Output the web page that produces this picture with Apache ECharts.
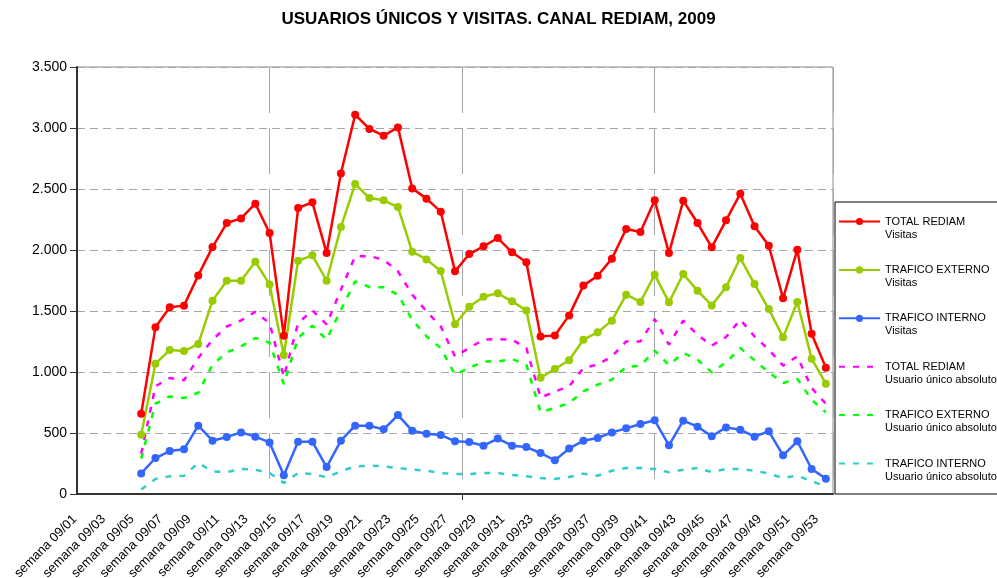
<!DOCTYPE html>
<html>

	<head>
		<meta charset="UTF-8">
		<title>Usuarios únicos y visitas. Canal REDIAM, 2009</title>
		<style type="text/css">
			html, body {
				margin: 0;
				padding: 0;
				background: #fff;
			}

			#basebox {
				width: 997px;
				height: 578px;
			}
		</style>
		<script src="https://cdn.jsdelivr.net/npm/echarts@6/dist/echarts.min.js"></script>
	</head>

	<body>
		<div id="basebox"></div>

		<script>
			// semanas 09/01 .. 09/53, los datos empiezan en la semana 09/05
			var totalWeeks = 53;
			var firstWeek = 5;

			var nombres = [
				'TOTAL REDIAM\nVisitas',
				'TRAFICO EXTERNO\nVisitas',
				'TRAFICO INTERNO\nVisitas',
				'TOTAL REDIAM\nUsuario único absoluto',
				'TRAFICO EXTERNO\nUsuario único absoluto',
				'TRAFICO INTERNO\nUsuario único absoluto'
			];

			var totalVisitas = [658, 1366, 1530, 1544, 1792, 2024, 2221, 2259, 2380, 2139, 1298, 2344, 2391, 1975, 2628, 3109, 2992, 2937, 3005, 2505,
				2421, 2314, 1825, 1967, 2030, 2098, 1981, 1899, 1292, 1300, 1464, 1708, 1789, 1929, 2172, 2147, 2407, 1975, 2404, 2221,
				2022, 2243, 2462, 2194, 2035, 1604, 2003, 1314, 1035];
			var externoVisitas = [486, 1068, 1180, 1172, 1229, 1585, 1748, 1748, 1904, 1718, 1139, 1912, 1956, 1748, 2188, 2541, 2426, 2407, 2352, 1986,
				1923, 1828, 1391, 1535, 1617, 1645, 1579, 1505, 953, 1025, 1096, 1265, 1325, 1421, 1634, 1574, 1798, 1571, 1803, 1667,
				1546, 1694, 1934, 1721, 1516, 1284, 1574, 1109, 904];
			var internoVisitas = [169, 295, 352, 366, 560, 437, 467, 505, 470, 423, 153, 429, 429, 221, 437, 560, 560, 530, 647, 519,
				494, 484, 432, 426, 396, 454, 396, 385, 336, 276, 372, 437, 459, 505, 538, 574, 604, 399, 601, 552,
				473, 546, 527, 470, 514, 317, 432, 205, 126];
			var totalUsuarios = [330, 883, 951, 932, 1114, 1264, 1373, 1422, 1493, 1400, 960, 1400, 1505, 1390, 1675, 1948, 1950, 1920, 1825, 1634,
				1497, 1374, 1128, 1197, 1265, 1270, 1265, 1197, 790, 840, 882, 1033, 1060, 1128, 1251, 1251, 1434, 1224, 1421, 1306,
				1216, 1287, 1429, 1292, 1183, 1052, 1128, 869, 740];
			var externoUsuarios = [290, 740, 800, 787, 830, 1060, 1160, 1210, 1279, 1240, 900, 1280, 1380, 1265, 1510, 1743, 1697, 1694, 1634, 1429,
				1292, 1197, 978, 1033, 1087, 1087, 1106, 1060, 670, 705, 746, 841, 896, 937, 1041, 1052, 1175, 1057, 1156, 1101,
				997, 1079, 1197, 1095, 997, 910, 943, 773, 669];
			var internoUsuarios = [36, 123, 145, 150, 254, 186, 180, 205, 199, 172, 90, 172, 164, 137, 186, 227, 232, 227, 213, 200,
				191, 172, 164, 164, 172, 172, 156, 145, 131, 123, 139, 167, 150, 191, 213, 213, 205, 178, 199, 213,
				180, 205, 205, 191, 167, 131, 150, 104, 63];

			var semanas = [];
			for (var w = 1; w <= totalWeeks; w++) {
				semanas.push('semana 09/' + (w < 10 ? '0' + w : w));
			}

			// rellena con null las semanas sin datos
			function conHuecos(arr) {
				var out = [];
				for (var k = 1; k < firstWeek; k++) out.push(null);
				return out.concat(arr);
			}

			function miles(v) {
				if (v < 1000) return String(v);
				var r = String(v % 1000);
				while (r.length < 3) r = '0' + r;
				return Math.floor(v / 1000) + '.' + r;
			}

			function serieVisitas(nombre, datos, color) {
				return {
					name: nombre,
					type: 'line',
					data: conHuecos(datos),
					symbol: 'circle',
					symbolSize: 8,
					z: 3,
					itemStyle: { color: color },
					lineStyle: { color: color, width: 2.5 }
				};
			}

			function serieUsuarios(nombre, datos, color) {
				return {
					name: nombre,
					type: 'line',
					data: conHuecos(datos),
					symbol: 'none',
					z: 2,
					itemStyle: { color: color },
					lineStyle: { color: color, width: 2.5, type: [6, 8] }
				};
			}

			// leyenda: las series de usuarios sin marcador
			var legendData = nombres.map(function (n, i) {
				return i < 3 ? { name: n } : { name: n, itemStyle: { opacity: 0 } };
			});

			var basechart = echarts.init(document.getElementById('basebox'));

			var option = {
				animation: false,
				backgroundColor: '#fff',
				textStyle: { fontFamily: 'Arial, "Liberation Sans", sans-serif' },
				title: {
					text: 'USUARIOS ÚNICOS Y VISITAS. CANAL REDIAM, 2009',
					left: 'center',
					top: 6,
					textStyle: { fontSize: 17, fontWeight: 'bold', color: '#000', fontFamily: 'Arial, "Liberation Sans", sans-serif' }
				},
				legend: {
					data: legendData,
					orient: 'vertical',
					left: 835,
					top: 202,
					padding: [0, 3, 11, 3],
					itemWidth: 41,
					itemHeight: 9,
					itemGap: 9.4,
					backgroundColor: '#fff',
					borderColor: '#000',
					borderWidth: 1,
					formatter: function (name) { return '\n' + name; },
					textStyle: { fontSize: 11, lineHeight: 13, color: '#000' }
				},
				grid: {
					left: 77,
					top: 67,
					right: 164,
					bottom: 84,
					outerBoundsMode: 'none',   // las etiquetas pueden salirse por abajo
					containLabel: false,
					show: true,
					borderColor: '#8c8c8c',
					borderWidth: 1
				},
				xAxis: [{
					type: 'category',
					data: semanas,
					boundaryGap: true,
					axisLine: { lineStyle: { color: '#333', width: 2 } },
					axisTick: { show: false },
					axisLabel: {
						interval: 1,
						rotate: 45,
						margin: 14,
						fontSize: 13,
						color: '#000',
						padding: [0, 13, 0, 0]
					},
					splitLine: { show: false }
				}, {
					// líneas verticales del fondo
					type: 'value',
					position: 'bottom',
					min: 0,
					max: totalWeeks,
					interval: 13.5,
					axisLine: { show: false },
					axisLabel: { show: false },
					axisTick: { show: false },
					splitLine: { show: true, lineStyle: { color: '#a6a6a6', width: 1, type: [46, 15] } }
				}, {
					// única marca del eje
					type: 'value',
					position: 'bottom',
					min: 0,
					max: totalWeeks,
					axisLine: { show: false },
					axisLabel: { show: false },
					axisTick: { show: true, customValues: [27], length: 6, lineStyle: { color: '#333' } },
					splitLine: { show: false }
				}],
				yAxis: {
					type: 'value',
					min: 0,
					max: 3500,
					interval: 500,
					axisLine: { show: true, lineStyle: { color: '#333', width: 2 } },
					axisTick: { show: true, length: 7, lineStyle: { color: '#333' } },
					axisLabel: { fontSize: 14, color: '#000', margin: 10, formatter: miles },
					splitLine: { lineStyle: { color: '#a6a6a6', width: 1, type: [8, 5] } }
				},
				series: [
					serieVisitas(nombres[0], totalVisitas, '#ff0000'),
					serieVisitas(nombres[1], externoVisitas, '#99cc00'),
					serieVisitas(nombres[2], internoVisitas, '#3366ff'),
					serieUsuarios(nombres[3], totalUsuarios, '#ff00ff'),
					serieUsuarios(nombres[4], externoUsuarios, '#00ff00'),
					serieUsuarios(nombres[5], internoUsuarios, '#33cccc')
				]
			};

			basechart.setOption(option);
		</script>
	</body>

</html>
